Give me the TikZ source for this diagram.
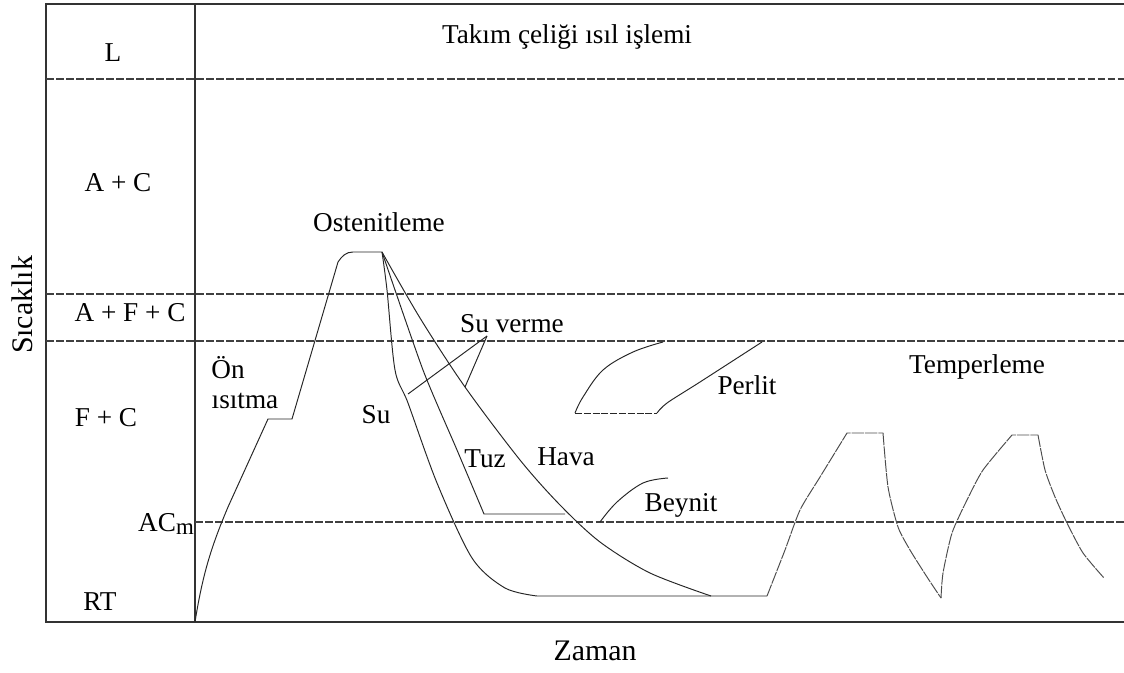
\documentclass[tikz,border=0pt]{standalone}
\usepackage{fontspec}
\setmainfont{Liberation Serif}
\begin{document}
\begin{tikzpicture}[x=0.02cm,y=-0.02cm,
  frame/.style={line width=0.7pt, black!80},
  zone/.style={line width=0.6pt, black!75, dash pattern=on 4.5pt off 1.2pt},
  curve/.style={line width=0.55pt, black!85, line join=round},
  tcurve/.style={line width=0.55pt, black!70, dash pattern=on 7pt off 0.6pt},
  lbl/.style={font=\fontsize{15.5pt}{17pt}\selectfont, inner sep=0pt},
  axis/.style={font=\fontsize{17pt}{19pt}\selectfont, inner sep=0pt}]
\useasboundingbox (0,0) rectangle (1124,672);
% frame
\coordinate (tl) at (46,4);
\coordinate (tr) at (1124,4);
\coordinate (bl) at (46,622);
\coordinate (br) at (1124,622);
\coordinate (dt) at (195,4);
\coordinate (db) at (195,622);
\draw[frame] (tr) -- (tl) -- (bl) -- (br);
\draw[frame] (dt) -- (db);
% zone boundaries
\draw[zone] (46,79) -- (1124,79);
\draw[zone] (46,294) -- (1124,294);
\draw[zone] (46,341) -- (1124,341);
\draw[zone] (195,522) -- (1124,522);
% labels
\node[lbl] (L) at (113,53) {L};
\node[lbl] (title) at (567,37) {Takım çeliği ısıl işlemi};
\node[lbl] (ac) at (118,183) {A + C};
\node[lbl] (afc) at (130,313) {A + F + C};
\node[lbl] (fc) at (106,418) {F + C};
\node[lbl] (acm) at (166,524) {AC\raisebox{-0.3ex}{\fontsize{13pt}{13pt}\selectfont m}};
\node[lbl] (rt) at (100,602) {RT};
\node[axis, rotate=90] (y) at (22,305) {Sıcaklık};
\node[axis] (x) at (595,651) {Zaman};
\node[lbl] (osten) at (379,222) {Ostenitleme};
\node[lbl] (suverme) at (512,324) {Su verme};
\node[lbl] (on) at (228,368) {Ön};
\node[lbl] (isitma) at (245,401) {ısıtma};
\node[lbl] (su) at (376,415) {Su};
\node[lbl] (tuz) at (485,459) {Tuz};
\node[lbl] (hava) at (566,457) {Hava};
\node[lbl] (perlit) at (747,385) {Perlit};
\node[lbl] (beynit) at (681,505) {Beynit};
\node[lbl] (temper) at (977,367) {Temperleme};
% heating curve
\draw[curve] (195,622) .. controls (203,572) and (212,545) .. (228,507) -- (268,419)
  -- (292,419) -- (338,262)
  .. controls (342,256) and (346,252) .. (353,252) -- (382,252);
% quench: Su
\draw[curve] plot[smooth, tension=0.5] coordinates {(382,252) (387,290) (395,370) (408,403) (437,483) (472,558) (505,588) (537,596)} -- (767,596);
% quench: Tuz
\draw[curve] plot[smooth, tension=0.4] coordinates {(382,252) (423,370) (457,450) (484,514)} -- (565,514);
% quench: Hava
\draw[curve] plot[smooth, tension=0.5] coordinates {(382,252) (420,318) (465,387) (520,460) (560,505) (600,542) (650,573) (711,596)};
% leaders for Su verme
\coordinate (sv) at (487,336);
\coordinate (svsu) at (408,394);
\coordinate (svhava) at (465,387);
\draw[curve] (sv) -- (svsu);
\draw[curve] (sv) -- (svhava);
% Perlit region
\draw[curve] plot[smooth, tension=0.6] coordinates {(575,413) (583,397) (603,370) (633,352) (663,342)};
\draw[curve, dash pattern=on 4pt off 1pt] (575,413) -- (657,413);
\draw[curve] plot[smooth, tension=0.5] coordinates {(657,413) (667,403) (700,382) (762,342)};
% Beynit
\draw[curve] plot[smooth, tension=0.6] coordinates {(600,522) (617,502) (643,483) (668,478)};
% tempering cycles
\draw[tcurve] plot[smooth, tension=0.4] coordinates {(767,596) (785,550) (800,510) (820,477) (847,433)} -- (883,433);
\draw[tcurve] plot[smooth, tension=0.4] coordinates {(883,433) (888,487) (898,527) (910,550) (927,577) (941,598)};
\draw[tcurve] plot[smooth, tension=0.4] coordinates {(941,598) (943,573) (952,533) (967,500) (983,470) (1012,435)} -- (1038,435);
\draw[tcurve] plot[smooth, tension=0.4] coordinates {(1038,435) (1045,470) (1055,497) (1067,523) (1083,553) (1104,578)};
\end{tikzpicture}
\end{document}
